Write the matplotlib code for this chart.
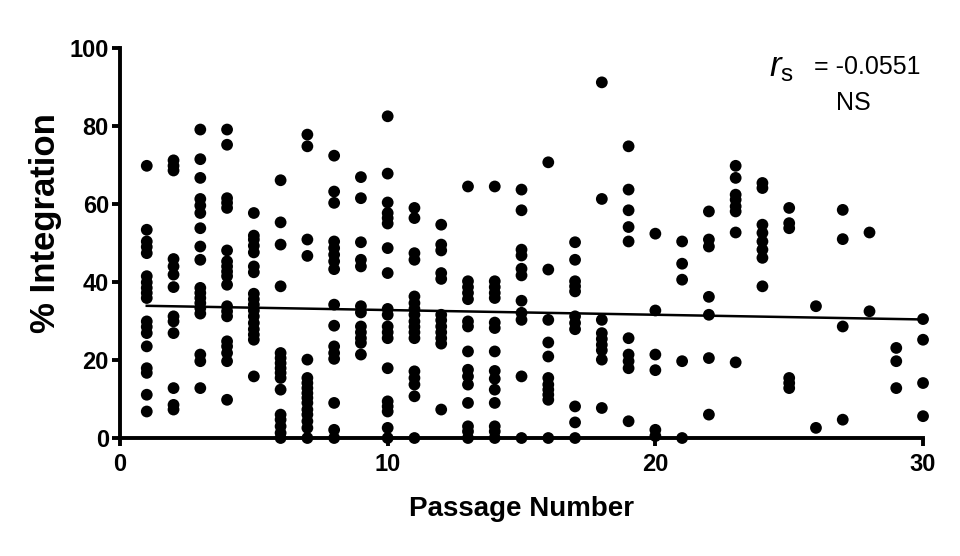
import numpy as np
import matplotlib
matplotlib.use('Agg')
from matplotlib import pyplot as plt

# % integration read per passage number
p01 = [69.8, 53.4, 50.4, 49.0, 47.4, 41.5, 39.9, 38.5, 37.2, 35.9, 29.9, 28.5, 26.9, 23.5, 17.9, 16.7, 11.1, 6.8]
p02 = [71.2, 69.8, 68.6, 45.9, 44.0, 41.9, 38.7, 31.2, 29.9, 26.9, 12.8, 8.5, 7.3]
p03 = [79.1, 71.5, 66.7, 61.3, 59.6, 57.7, 53.8, 49.1, 45.7, 38.5, 37.2, 35.9, 34.6, 33.3, 31.9, 21.4, 19.7, 12.8]
p04 = [79.1, 75.2, 61.5, 60.3, 59.0, 48.1, 45.3, 44.0, 42.7, 41.5, 39.3, 33.8, 32.5, 31.2, 24.8, 23.5, 21.8, 19.7, 9.8]
p05 = [57.7, 51.9, 50.9, 49.3, 47.6, 44.0, 42.5, 37.0, 35.6, 34.2, 32.7, 31.2, 29.5, 27.9, 26.5, 25.2, 15.8]
p06 = [66.1, 55.3, 49.6, 38.9, 21.8, 20.5, 19.2, 17.9, 16.7, 15.4, 12.4, 6.0, 4.7, 3.0, 1.3, 0.0]
p07 = [77.8, 74.8, 50.9, 46.7, 20.1, 15.4, 14.1, 12.8, 11.5, 10.3, 9.0, 7.3, 6.0, 4.3, 2.6, 0.0]
p08 = [72.4, 63.2, 60.3, 50.4, 48.7, 47.0, 45.3, 43.3, 34.2, 28.8, 23.5, 21.8, 20.3, 9.0, 2.1, 0.0]
p09 = [66.9, 61.5, 50.2, 45.7, 44.0, 33.8, 32.2, 28.6, 27.1, 25.6, 24.4, 21.4]
p10 = [82.5, 67.8, 60.4, 57.7, 56.4, 55.0, 48.7, 42.3, 33.1, 31.6, 28.6, 27.1, 25.6, 17.9, 9.4, 8.1, 6.8, 2.6, 0.0]
p11 = [59.0, 56.4, 47.4, 45.7, 36.3, 34.6, 33.1, 31.6, 29.9, 28.5, 27.1, 25.6, 17.1, 15.4, 13.7, 10.7, 0.0]
p12 = [54.7, 49.6, 48.1, 42.3, 40.8, 31.6, 30.2, 28.6, 27.1, 25.6, 24.2, 7.3]
p13 = [64.5, 40.2, 38.7, 37.2, 35.6, 29.9, 28.6, 22.2, 17.5, 15.8, 13.7, 9.0, 3.0, 1.7, 0.0]
p14 = [64.5, 40.2, 38.7, 37.2, 35.9, 29.6, 28.2, 22.2, 17.2, 15.2, 12.4, 9.0, 3.0, 1.7, 0.0]
p15 = [63.7, 58.4, 48.3, 46.8, 43.4, 41.7, 35.2, 32.1, 30.3, 15.8, 0.0]
p16 = [70.7, 43.2, 30.3, 24.5, 20.9, 15.4, 13.7, 12.4, 11.1, 9.8, 0.0]
p17 = [50.2, 45.7, 40.2, 38.9, 37.6, 31.2, 29.5, 27.9, 8.1, 4.0, 0.0]
p18 = [91.2, 61.3, 30.3, 26.9, 25.4, 23.9, 22.5, 20.1, 7.7]
p19 = [74.8, 63.7, 58.4, 54.1, 50.4, 25.6, 21.4, 19.7, 17.9, 4.3]
p20 = [52.4, 32.7, 21.4, 17.4, 2.1, 0.5]
p21 = [50.4, 44.7, 40.6, 19.7, 0.0]
p22 = [58.1, 50.9, 49.1, 36.2, 31.6, 20.5, 6.0]
p23 = [69.8, 66.7, 62.4, 61.1, 59.4, 58.1, 52.7, 19.4]
p24 = [65.4, 64.1, 54.7, 52.6, 50.4, 48.3, 46.2, 38.9]
p25 = [59.0, 55.1, 53.8, 15.4, 14.1, 12.8]
p26 = [33.8, 2.6]
p27 = [58.5, 51.0, 28.6, 4.7]
p28 = [52.7, 32.5]
p29 = [23.1, 19.7, 12.8]
p30 = [30.5, 25.2, 14.1, 5.6]

groups = [p01, p02, p03, p04, p05, p06, p07, p08, p09, p10,
          p11, p12, p13, p14, p15, p16, p17, p18, p19, p20,
          p21, p22, p23, p24, p25, p26, p27, p28, p29, p30]

# regression line as drawn
fit_x = [1, 30]
fit_y = [33.9, 30.4]

x_ticks = [0, 10, 20, 30]
y_ticks = [0, 20, 40, 60, 80, 100]

xs = np.concatenate([np.full(len(g), i + 1) for i, g in enumerate(groups)])
ys = np.concatenate([np.array(g) for g in groups])

plt.rcParams['font.family'] = ['Liberation Sans', 'DejaVu Sans']
plt.rcParams['mathtext.fontset'] = 'custom'
plt.rcParams['mathtext.rm'] = 'Liberation Sans'
plt.rcParams['mathtext.it'] = 'Liberation Sans:italic'

fig = plt.figure(figsize=(9.6, 5.56), dpi=100)
ax = fig.add_axes([0.125, 0.2122, 0.8365, 0.7014])

ax.scatter(xs, ys, s=72, color='black', edgecolors='none', zorder=3, clip_on=False)
ax.plot(fit_x, fit_y, color='black', lw=1.8, zorder=2)

ax.set_xlim(0, 30)
ax.set_ylim(0, 100)
ax.set_xticks(x_ticks)
ax.set_yticks(y_ticks)

for side in ['top', 'right']:
    ax.spines[side].set_visible(False)
for side in ['left', 'bottom']:
    ax.spines[side].set_linewidth(2.8)

ax.tick_params(axis='both', direction='out', length=6, width=2.8, labelsize=17)
ax.tick_params(axis='x', pad=5)
ax.tick_params(axis='y', pad=2)
for lab in ax.get_xticklabels() + ax.get_yticklabels():
    lab.set_fontweight('bold')

ax.set_xlabel('Passage Number', fontsize=20, fontweight='bold', labelpad=14)
ax.set_ylabel('% Integration', fontsize=25, fontweight='bold')
ax.yaxis.set_label_coords(-0.072, 0.55)

# correlation annotation
ax.text(0.997, 0.951, '= -0.0551', transform=ax.transAxes,
        ha='right', va='center', fontsize=18)
ax.text(0.839, 0.951, r'$r_{\mathrm{s}}$', transform=ax.transAxes,
        ha='right', va='center', fontsize=25)
ax.text(0.913, 0.86, 'NS', transform=ax.transAxes, ha='center', va='center',
        fontsize=18)

fig.savefig('out.png', dpi=100)
